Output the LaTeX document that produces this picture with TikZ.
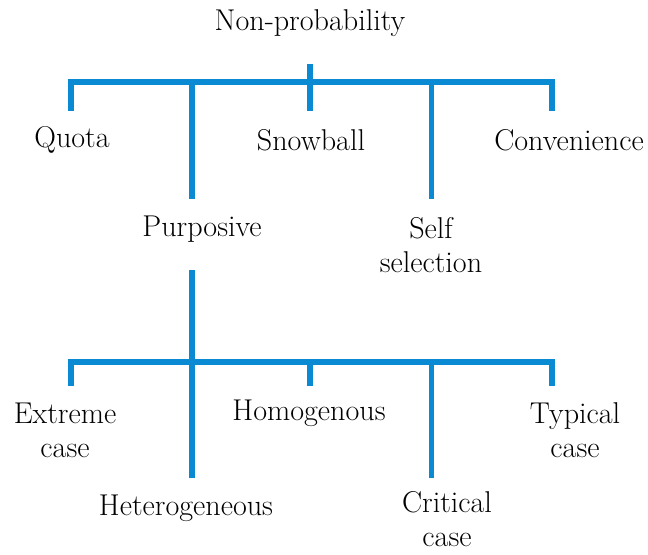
\documentclass[tikz,border=0pt]{standalone}
\usetikzlibrary{positioning}
\definecolor{TreeBlue}{HTML}{0A8AD2}
\tikzset{
  branch/.style={TreeBlue,line width=3.6pt},
  leaf/.style={font=\rmfamily\fontsize{21.4}{24.2}\selectfont,align=center,inner sep=0pt},
}

\begin{document}
\begin{tikzpicture}[x=0.025cm,y=-0.025cm]
\useasboundingbox (0,0) rectangle (648,554);

% upper level
\node[leaf] (root) at (310,23) {Non-probability};
\node[leaf] (quota) at (72,140) {Quota};
\node[leaf] (snow) at (311,140) {Snowball};
\node[leaf] (conv) at (569,140) {Convenience};
\node[leaf] (purp) at (202,229) {Purposive};
\node[leaf] (selfsel) at (431,245) {Self\\selection};

% lower level
\node[leaf] (extreme) at (65,430) {Extreme\\case};
\node[leaf] (homog) at (309,413) {Homogenous};
\node[leaf] (typical) at (575,430) {Typical\\case};
\node[leaf] (hetero) at (186,508) {Heterogeneous};
\node[leaf] (critical) at (447,519) {Critical\\case};

% branch points
\coordinate (rootdrop) at (310,64);
\coordinate (topbar) at (310,82);
\coordinate (quotaend) at (71,111);
\coordinate (snowend) at (310,111);
\coordinate (convend) at (552,111);
\coordinate (purpend) at (192,199);
\coordinate (selfend) at (431.5,199);
\coordinate (purpdrop) at (192,270);
\coordinate (lowbar) at (192,362);
\coordinate (extend) at (71,386);
\coordinate (homend) at (310,386);
\coordinate (typend) at (552,386);
\coordinate (hetend) at (192,478);
\coordinate (critend) at (431.5,478);

\draw[branch] (rootdrop) -- (topbar);
\draw[branch] (quotaend) |- (topbar) -| (convend);
\draw[branch] (snowend) -- (snowend |- topbar);
\draw[branch] (purpend) -- (purpend |- topbar);
\draw[branch] (selfend) -- (selfend |- topbar);

\draw[branch] (purpdrop) -- (hetend);
\draw[branch] (extend) |- (lowbar) -| (typend);
\draw[branch] (homend) -- (homend |- lowbar);
\draw[branch] (critend) -- (critend |- lowbar);

\end{tikzpicture}
\end{document}
